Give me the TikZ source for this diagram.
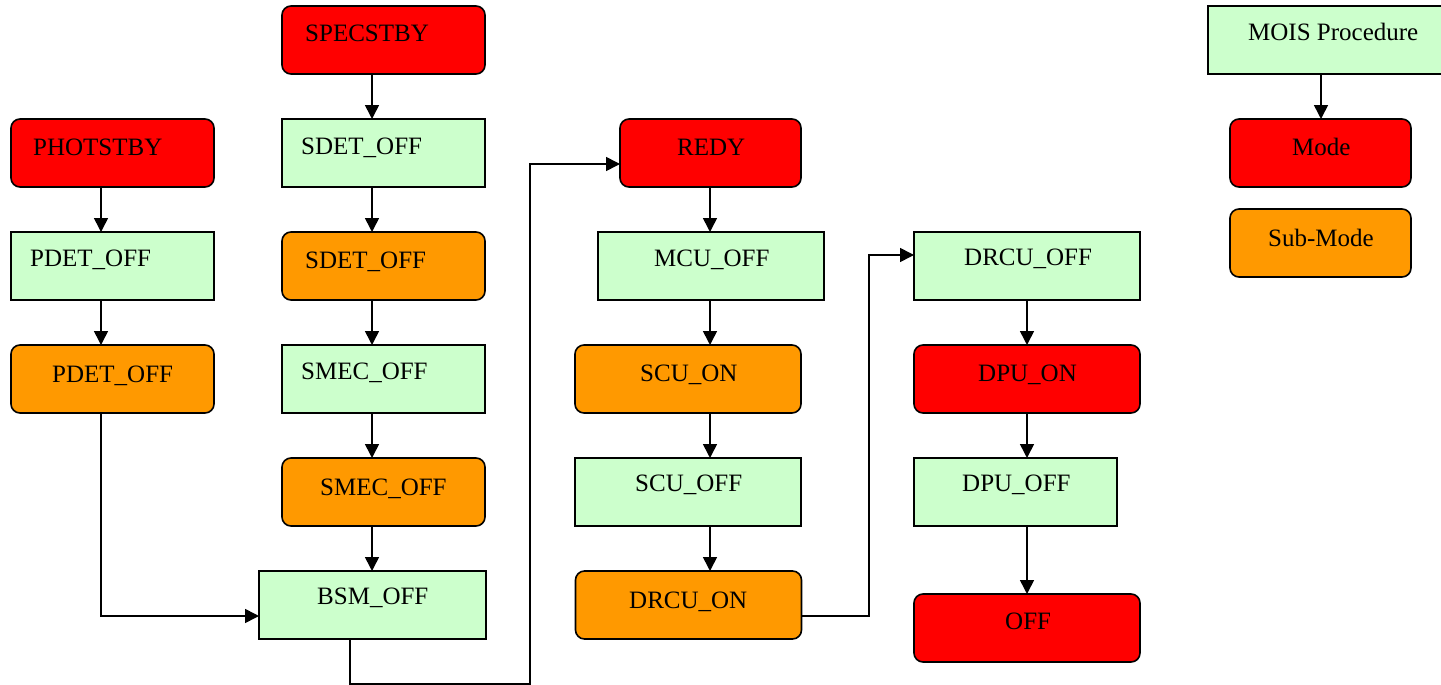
\documentclass[tikz,border=0pt]{standalone}
\usepackage{fontspec}
\setmainfont{Liberation Serif}
\usetikzlibrary{arrows.meta}
\definecolor{pgreen}{HTML}{CCFFCC}
\definecolor{pred}{HTML}{FF0000}
\definecolor{porange}{HTML}{FF9900}
\begin{document}
\begin{tikzpicture}[x=1pt,y=-1pt,
  box/.style={draw=black,line width=1.6pt,inner sep=0pt,outer sep=0pt,minimum height=68pt},
  gbox/.style={box,fill=pgreen},
  rbox/.style={box,fill=pred,rounded corners=9pt},
  obox/.style={box,fill=porange,rounded corners=9pt},
  txt/.style={anchor=base west,inner sep=0pt,font=\fontsize{25}{30}\selectfont},
  arr/.style={line width=1.6pt,-{Triangle[length=14pt,width=14pt]}},
  conn/.style={line width=1.6pt}]
\useasboundingbox (0,0) rectangle (1441,685);
% column 1
\node[rbox,minimum width=203pt] (photstby) at (112.5,153) {};
\node[gbox,minimum width=203pt] (pdetg) at (112.5,266) {};
\node[obox,minimum width=203pt] (pdeto) at (112.5,379) {};
% column 2
\node[rbox,minimum width=203pt] (specstby) at (383.5,40) {};
\node[gbox,minimum width=203pt] (sdetg) at (383.5,153) {};
\node[obox,minimum width=203pt] (sdeto) at (383.5,266) {};
\node[gbox,minimum width=203pt] (smecg) at (383.5,379) {};
\node[obox,minimum width=203pt] (smeco) at (383.5,492) {};
\node[gbox,minimum width=227pt] (bsm) at (372.5,605) {};
% column 3
\node[rbox,minimum width=181pt] (redy) at (710.5,153) {};
\node[gbox,minimum width=226pt] (mcu) at (711,266) {};
\node[obox,minimum width=226pt] (scuon) at (688,379) {};
\node[gbox,minimum width=226pt] (scuoff) at (688,492) {};
\node[obox,minimum width=226pt] (drcuon) at (688.5,605) {};
% column 4
\node[gbox,minimum width=226pt] (drcuoff) at (1027,266) {};
\node[rbox,minimum width=226pt] (dpuon) at (1027,379) {};
\node[gbox,minimum width=203pt] (dpuoff) at (1015.5,492) {};
\node[rbox,minimum width=226pt] (off) at (1027,628) {};
% legend
\node[gbox,minimum width=235pt] (mois) at (1325.5,40) {};
\node[rbox,minimum width=181pt] (mode) at (1320.5,153) {};
\node[obox,minimum width=181pt] (submode) at (1320.5,243) {};
% texts
\node[txt] (t-photstby) at (33,155) {PHOTSTBY};
\node[txt] (t-pdetg) at (30,266) {PDET\_OFF};
\node[txt] (t-pdeto) at (52,382) {PDET\_OFF};
\node[txt] (t-specstby) at (305,42) {SPECSTBY};
\node[txt] (t-sdetg) at (301,154) {SDET\_OFF};
\node[txt] (t-sdeto) at (305,268) {SDET\_OFF};
\node[txt] (t-smecg) at (301,379) {SMEC\_OFF};
\node[txt] (t-smeco) at (320,495) {SMEC\_OFF};
\node[txt] (t-bsm) at (317,604) {BSM\_OFF};
\node[txt] (t-redy) at (677,155) {REDY};
\node[txt] (t-mcu) at (654,266) {MCU\_OFF};
\node[txt] (t-scuon) at (640,381) {SCU\_ON};
\node[txt] (t-scuoff) at (635,491) {SCU\_OFF};
\node[txt] (t-drcuon) at (629,608) {DRCU\_ON};
\node[txt] (t-drcuoff) at (964,265) {DRCU\_OFF};
\node[txt] (t-dpuon) at (978,381) {DPU\_ON};
\node[txt] (t-dpuoff) at (962,491) {DPU\_OFF};
\node[txt] (t-off) at (1005,629) {OFF};
\node[txt] (t-mois) at (1248,41) {MOIS Procedure};
\node[txt] (t-mode) at (1292,155) {Mode};
\node[txt] (t-submode) at (1268,246) {Sub-Mode};
% bend points
\coordinate (c1) at (530,684);
\coordinate (c2) at (869,255);
% connectors
\draw[arr] ([xshift=-11.5pt]photstby.south) -- ([xshift=-11.5pt]pdetg.north);
\draw[arr] ([xshift=-11.5pt]pdetg.south) -- ([xshift=-11.5pt]pdeto.north);
\draw[arr] ([xshift=-11.5pt]pdeto.south) |- ([yshift=-11pt]bsm.west);
\draw[arr] ([xshift=-11.5pt]specstby.south) -- ([xshift=-11.5pt]sdetg.north);
\draw[arr] ([xshift=-11.5pt]sdetg.south) -- ([xshift=-11.5pt]sdeto.north);
\draw[arr] ([xshift=-11.5pt]sdeto.south) -- ([xshift=-11.5pt]smecg.north);
\draw[arr] ([xshift=-11.5pt]smecg.south) -- ([xshift=-11.5pt]smeco.north);
\draw[arr] ([xshift=-11.5pt]smeco.south) -- ([xshift=-11.5pt]smeco.south |- bsm.north);
\draw[arr] ([xshift=-22.5pt]bsm.south) |- (c1) |- ([yshift=-11pt]redy.west);
\draw[arr] ([xshift=-0.5pt]redy.south) -- ([xshift=-0.5pt]redy.south |- mcu.north);
\draw[arr] ([xshift=-1pt]mcu.south) -- ([xshift=-1pt]mcu.south |- scuon.north);
\draw[arr] ([xshift=22pt]scuon.south) -- ([xshift=22pt]scuoff.north);
\draw[arr] ([xshift=22pt]scuoff.south) -- ([xshift=22pt]scuoff.south |- drcuon.north);
\draw[arr] ([yshift=-11pt]drcuon.east) -| (c2) -- ([yshift=11pt]drcuoff.west);
\draw[arr] (drcuoff.south) -- (dpuon.north);
\draw[arr] (dpuon.south) -- (dpuon.south |- dpuoff.north);
\draw[arr] ([xshift=11.5pt]dpuoff.south) -- ([xshift=11.5pt]dpuoff.south |- off.north);
\draw[arr] ([xshift=0.5pt]mode.north |- mois.south) -- ([xshift=0.5pt]mode.north);
\end{tikzpicture}
\end{document}
